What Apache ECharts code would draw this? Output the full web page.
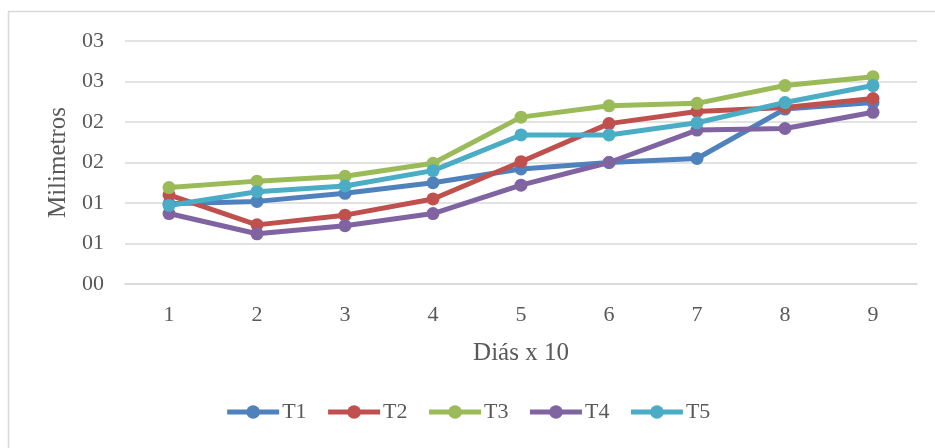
<!DOCTYPE html>
<html>
<head>
<meta charset="utf-8">
<script src="https://cdn.jsdelivr.net/npm/echarts@6/dist/echarts.min.js"></script>
<style>
  html, body { margin: 0; padding: 0; background: #fff; }
  #chart { width: 935px; height: 448px; }
</style>
</head>
<body>
<div id="chart"></div>
<script>
// Days (x 10)
const days = ['1', '2', '3', '4', '5', '6', '7', '8', '9'];

// Millimetres per treatment
const t1 = [0.99, 1.02, 1.12, 1.25, 1.42, 1.50, 1.55, 2.16, 2.24];
const t2 = [1.10, 0.73, 0.85, 1.05, 1.51, 1.98, 2.13, 2.18, 2.29];
const t3 = [1.19, 1.27, 1.33, 1.49, 2.06, 2.20, 2.23, 2.45, 2.56];
const t4 = [0.87, 0.62, 0.72, 0.87, 1.22, 1.50, 1.90, 1.92, 2.12];
const t5 = [0.97, 1.14, 1.21, 1.40, 1.84, 1.84, 1.99, 2.24, 2.45];

const seriesNames = ['T1', 'T2', 'T3', 'T4', 'T5'];
const seriesData = [t1, t2, t3, t4, t5];
const colors = ['#4f81bd', '#c0504d', '#9bbb59', '#8064a2', '#4bacc6'];

const font = '"Liberation Serif", "Times New Roman", serif';
const textColor = '#595959';
const gridColor = '#d9d9d9';

const chart = echarts.init(document.getElementById('chart'), null, { renderer: 'canvas' });

chart.setOption({
  animation: false,
  backgroundColor: '#ffffff',
  color: colors,
  textStyle: { fontFamily: font },
  graphic: [{
    type: 'rect',
    silent: true,
    shape: { x: 8.5, y: 11.5, width: 1000, height: 500 },
    style: { fill: 'none', stroke: gridColor, lineWidth: 1.5 }
  }],
  grid: { left: 125, right: 18, top: 41, bottom: 164 },
  legend: {
    bottom: 20,
    left: 'center',
    itemWidth: 52,
    itemHeight: 17,
    itemGap: 19,
    lineStyle: { width: 5 },
    textStyle: { fontFamily: font, fontSize: 22, color: textColor, padding: [0, 0, 0, -2] },
    data: seriesNames
  },
  xAxis: {
    type: 'category',
    data: days,
    boundaryGap: true,
    name: 'Diás x 10',
    nameLocation: 'middle',
    nameGap: 57,
    nameTextStyle: { fontFamily: font, fontSize: 25, color: textColor },
    axisLine: { show: true, lineStyle: { color: gridColor, width: 1.5 } },
    axisTick: { show: false },
    axisLabel: { fontFamily: font, fontSize: 22, color: textColor, margin: 20 }
  },
  yAxis: {
    type: 'value',
    min: 0,
    max: 3,
    interval: 0.5,
    name: 'Milimetros',
    nameLocation: 'middle',
    nameGap: 53,
    nameRotate: 90,
    nameTextStyle: { fontFamily: font, fontSize: 25, color: textColor },
    axisLine: { show: false },
    axisTick: { show: false },
    splitLine: { lineStyle: { color: gridColor, width: 1.5 } },
    axisLabel: {
      fontFamily: font, fontSize: 22, color: textColor, margin: 21,
      formatter: v => '0' + Math.round(v)
    }
  },
  series: seriesNames.map((name, i) => ({
    name: name,
    type: 'line',
    data: seriesData[i],
    symbol: 'circle',
    symbolSize: 13,
    lineStyle: { width: 5, color: colors[i] },
    itemStyle: { color: colors[i] }
  }))
});
</script>
</body>
</html>
